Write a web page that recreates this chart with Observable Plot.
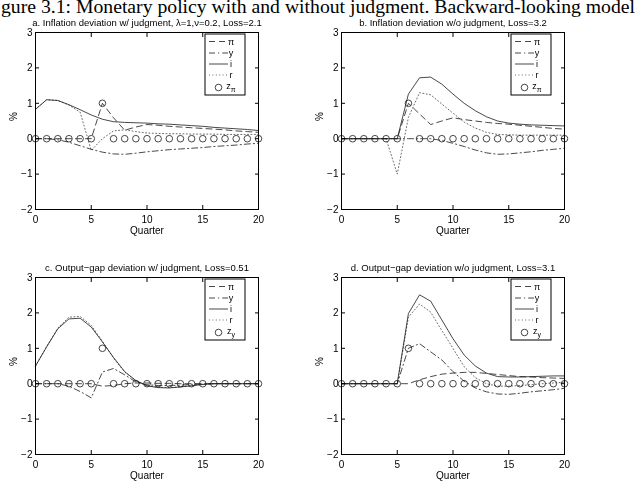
<!DOCTYPE html>
<html><head><meta charset="utf-8">
<script src="https://cdn.jsdelivr.net/npm/d3@7"></script>
<script src="https://cdn.jsdelivr.net/npm/@observablehq/plot@0.6"></script>
<style>
body{margin:0;background:#fff;width:636px;height:491px;position:relative;overflow:hidden;font-family:"Liberation Sans",Arial,sans-serif}
.panel{position:absolute;will-change:transform}
#header{position:absolute;left:0;top:0}
</style></head><body>
<svg id="header" width="636" height="20"><text x="1" y="13" font-family="Liberation Serif, DejaVu Serif, serif" font-size="19" textLength="634" lengthAdjust="spacingAndGlyphs">gure 3.1: Monetary policy with and without judgment. Backward-looking model</text></svg>
<div id="pa" class="panel" style="left:0;top:0"></div>
<div id="pb" class="panel" style="left:306px;top:0"></div>
<div id="pc" class="panel" style="left:0;top:245px"></div>
<div id="pd" class="panel" style="left:306px;top:245px"></div>
<script>
const quarters = [0,1,2,3,4,5,6,7,8,9,10,11,12,13,14,15,16,17,18,19,20];
const xTicks = [0,5,10,15,20];
const yTicks = [-2,-1,0,1,2,3];
const legendLabels = ["π","y","i","r","z"];

const titles = [
  "a. Inflation deviation w/ judgment, λ=1,ν=0.2, Loss=2.1",
  "b. Inflation deviation w/o judgment, Loss=3.2",
  "c. Output−gap deviation w/ judgment, Loss=0.51",
  "d. Output−gap deviation w/o judgment, Loss=3.1"
];

// judgment (z) : same in every panel
const zJudg = [0,0,0,0,0,0,1,0,0,0,0,0,0,0,0,0,0,0,0,0,0];

// a.
const aPi = [0,0,0,0,0,0,1.0,0.59,0.24,0.33,0.40,0.38,0.35,0.33,0.31,0.29,0.27,0.25,0.22,0.20,0.18];
const aY  = [0,0,-0.03,-0.10,-0.20,-0.30,-0.38,-0.43,-0.44,-0.41,-0.37,-0.34,-0.31,-0.29,-0.27,-0.25,-0.22,-0.20,-0.18,-0.15,-0.13];
const aI  = [0.83,1.10,1.08,0.96,0.82,0.67,0.55,0.48,0.46,0.45,0.44,0.42,0.41,0.39,0.37,0.35,0.32,0.30,0.28,0.26,0.23];
const aR  = [0.83,1.10,1.08,0.95,0.75,-0.33,0.0,0.22,0.25,0.20,0.16,0.15,0.14,0.14,0.13,0.13,0.13,0.12,0.12,0.12,0.12];
// b.
const bPi = [0,0,0,0,0,0,1.0,0.70,0.40,0.50,0.59,0.54,0.50,0.46,0.43,0.41,0.38,0.35,0.32,0.29,0.27];
const bY  = [0,0,0,0,0,0,0,0,0,-0.05,-0.13,-0.22,-0.32,-0.40,-0.44,-0.43,-0.40,-0.37,-0.33,-0.30,-0.27];
const bI  = [0,0,0,0,0,0,1.26,1.72,1.74,1.54,1.26,1.00,0.79,0.62,0.50,0.44,0.41,0.39,0.38,0.37,0.36];
const bR  = [0,0,0,0,0,-1.0,0.60,1.30,1.24,0.98,0.72,0.47,0.30,0.18,0.12,0.11,0.10,0.10,0.10,0.10,0.10];
// c.
const cPi = [0,0,0,0,0,0,-0.07,-0.05,0,0.02,0.02,0.01,0.01,0,0,0,0,0,0,0,0];
const cY  = [0,0,0,-0.07,-0.22,-0.40,0.33,0.43,0.25,0.05,-0.03,-0.05,-0.05,-0.04,-0.02,-0.01,0,0,0,0,0];
const cI  = [0.50,1.04,1.55,1.83,1.85,1.60,1.18,0.74,0.34,0.09,-0.06,-0.11,-0.12,-0.09,-0.06,-0.02,0,0,0,0,0];
const cR  = [0.50,1.05,1.57,1.88,1.90,1.65,1.20,0.72,0.33,0.08,-0.06,-0.10,-0.11,-0.09,-0.05,-0.02,0,0,0,0,0];
// d.
const dPi = [0,0,0,0,0,0,0,0.11,0.20,0.27,0.30,0.32,0.32,0.29,0.26,0.23,0.20,0.19,0.17,0.16,0.15];
const dY  = [0,0,0,0,0,0,1.0,1.13,0.90,0.67,0.34,0.07,-0.12,-0.23,-0.29,-0.30,-0.27,-0.23,-0.20,-0.17,-0.13];
const dI  = [0,0,0,0,0,0,1.98,2.51,2.33,1.80,1.27,0.81,0.50,0.30,0.20,0.19,0.19,0.20,0.21,0.22,0.22];
const dR  = [0,0,0,0,0,0,1.88,2.25,2.02,1.50,1.00,0.48,0.17,0.0,-0.07,-0.07,-0.05,-0.03,0,0.02,0.04];

const styles = {
  pi: {strokeDasharray: "6,4"},
  y:  {strokeDasharray: "6,3,1.2,3"},
  i:  {},
  r:  {strokeDasharray: "1,2.4", stroke: "#444"}
};
const INK = "#1a1a1a";
const FONT = "Liberation Sans, Arial, Helvetica, sans-serif";
const fmt = d => d < 0 ? "\u2212" + (-d) : String(d);

function panel(id, title, pi, y, i, r, z, zsub, marginRight, height) {
  const rows = quarters.map((q, k) => ({q, pi: pi[k], y: y[k], i: i[k], r: r[k], z: z[k]}));
  const line = (key) => Plot.lineY(rows, {x: "q", y: key, stroke: INK, strokeWidth: 0.8, ...styles[key]});
  const chart = Plot.plot({
    width: 35 + 223 + marginRight, height,
    marginLeft: 35, marginRight, marginTop: 32, marginBottom: height - 32 - 177,
    style: {fontFamily: FONT, fontSize: "10px", background: "transparent", overflow: "visible", color: "black"},
    x: {domain: [0, 20]},
    y: {domain: [-2, 3]},
    marks: [
      line("r"), line("y"), line("pi"), line("i"),
      Plot.dot(rows, {x: "q", y: "z", r: 3.3, stroke: INK, strokeWidth: 0.8, fill: "none"}),
      Plot.frame({stroke: "black", strokeWidth: 1}),
      Plot.axisX({anchor: "bottom", ticks: xTicks, tickSize: -4, tickPadding: 10, tickFormat: fmt, label: null, fontSize: 10}),
      Plot.axisX({anchor: "top", ticks: xTicks, tickSize: -4, tickFormat: () => "", label: null}),
      Plot.axisY({anchor: "left", ticks: yTicks, tickSize: -4, tickPadding: 7, tickFormat: fmt, label: null, fontSize: 10}),
      Plot.axisY({anchor: "right", ticks: yTicks, tickSize: -4, tickFormat: () => "", label: null}),
      Plot.text([title], {text: d => d, frameAnchor: "top", dy: -13, fontSize: 9.5, fill: "black"}),
      Plot.text(["Quarter"], {text: d => d, frameAnchor: "bottom", dy: 24, fontSize: 10, fill: "black"}),
      Plot.text(["%"], {text: d => d, frameAnchor: "left", dx: -22, rotate: -90, fontSize: 10, fill: "black"})
    ]
  });
  // legend box (MATLAB-style), placed from the plot's own scales
  const xs = chart.scale("x"), ys = chart.scale("y");
  const right = Math.max(...xs.range), top = Math.min(...ys.range);
  const bw = 40, bh = 61, bx = right - 13 - bw, by = top + 2;
  const g = d3.select(chart).append("g").attr("font-family", FONT).attr("font-size", 9);
  g.append("rect").attr("x", bx).attr("y", by).attr("width", bw).attr("height", bh)
    .attr("fill", "white").attr("stroke", "black").attr("stroke-width", 1);
  const keys = ["pi", "y", "i", "r", "z"];
  const rowY = [7.5, 19, 30, 41, 52.5];
  keys.forEach((k, n) => {
    const yy = by + rowY[n];
    if (k === "z") {
      g.append("circle").attr("cx", bx + 13.5).attr("cy", yy + 1).attr("r", 3.3)
        .attr("fill", "none").attr("stroke", INK).attr("stroke-width", 0.8);
      const t = g.append("text").attr("x", bx + 26).attr("y", yy + 2).attr("fill", "black");
      t.append("tspan").text(legendLabels[n]);
      t.append("tspan").attr("dy", 3).attr("font-size", 7).text(zsub);
    } else {
      const s = styles[k];
      g.append("line").attr("x1", bx + 4).attr("x2", bx + 23).attr("y1", yy).attr("y2", yy)
        .attr("stroke", s.stroke || INK).attr("stroke-width", 0.8)
        .attr("stroke-dasharray", s.strokeDasharray || null);
      g.append("text").attr("x", bx + 26).attr("y", yy + 3).attr("fill", "black").text(legendLabels[n]);
    }
  });
  document.getElementById(id).append(chart);
}

panel("pa", titles[0], aPi, aY, aI, aR, zJudg, "π", 60, 239);
panel("pb", titles[1], bPi, bY, bI, bR, zJudg, "π", 72, 239);
panel("pc", titles[2], cPi, cY, cI, cR, zJudg, "y", 60, 240);
panel("pd", titles[3], dPi, dY, dI, dR, zJudg, "y", 72, 240);
</script>
</body></html>
